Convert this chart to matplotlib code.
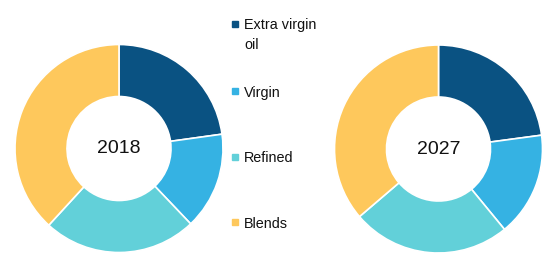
import matplotlib.pyplot as plt

plt.rcParams["font.family"] = ["Liberation Sans Narrow", "Liberation Sans", "DejaVu Sans"]

CATEGORIES = ["Extra virgin\noil", "Virgin", "Refined", "Blends"]
COLORS = ["#0a5282", "#35b2e3", "#62d0d9", "#fec85c"]
YEARS = ["2018", "2027"]
SHARE_2018 = [22.8, 15.1, 23.9, 38.2]
SHARE_2027 = [22.9, 16.2, 24.7, 36.3]

W, H = 558, 270
fig = plt.figure(figsize=(W / 100, H / 100), dpi=100)
ax = fig.add_axes([0, 0, 1, 1])

# pie centres / radius in pixel space
centres = [(119, H - 148.5), (438.5, H - 149)]
radius = 104
for year, shares, c in zip(YEARS, [SHARE_2018, SHARE_2027], centres):
    ax.pie(shares, colors=COLORS, startangle=90, counterclock=False,
           center=c, radius=radius, frame=True,
           wedgeprops=dict(width=radius * 0.5, edgecolor="white", linewidth=1.2))
    ax.text(c[0], c[1], year, ha="center", va="center", fontsize=14,
            color="#111111", family=["Liberation Sans", "DejaVu Sans"])
ax.set_xlim(0, W)
ax.set_ylim(0, H)
ax.set_aspect("equal")
ax.axis("off")

# legend drawn by hand
legend_y = [24, 91, 157, 222]
for label, color, y in zip(CATEGORIES, COLORS, legend_y):
    ax.plot(235, H - y, marker="s", markersize=4, color=color, linestyle="none")
    ax.text(244, H - y + 5.5, label, ha="left", va="top", fontsize=10.4,
            color="#111111", linespacing=1.5)

fig.savefig("out.png", dpi=100, facecolor="white")
